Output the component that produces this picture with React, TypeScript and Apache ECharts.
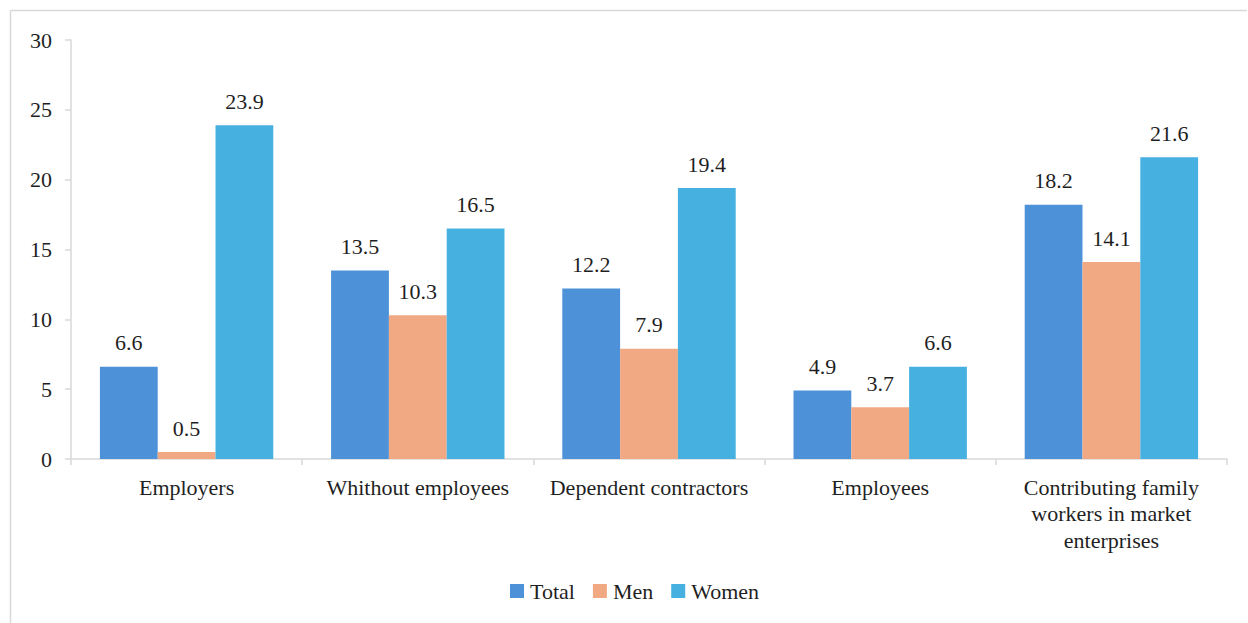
import React, { useEffect, useRef } from "react";
import * as echarts from "echarts";

const categories = [
  "Employers",
  "Whithout employees",
  "Dependent contractors",
  "Employees",
  "Contributing family\nworkers in market\nenterprises",
];
const totalValues = [6.6, 13.5, 12.2, 4.9, 18.2];
const menValues = [0.5, 10.3, 7.9, 3.7, 14.1];
const womenValues = [23.9, 16.5, 19.4, 6.6, 21.6];
const seriesNames = ["Total", "Men", "Women"];
const seriesColors = ["#4D91D9", "#F1A983", "#46B1E1"];

const FONT = "Liberation Serif";
const TEXT_COLOR = "#1f1f1f";

export default function App() {
  const ref = useRef<HTMLDivElement>(null);

  useEffect(() => {
    document.body.style.margin = "0";
    const chart = echarts.init(ref.current!, null, { renderer: "svg" });
    const values = [totalValues, menValues, womenValues];
    const lbl = { fontFamily: FONT, fontSize: 22, color: TEXT_COLOR };
    chart.setOption({
      animation: false,
      textStyle: { fontFamily: FONT, fontSize: 22, color: TEXT_COLOR },
      graphic: [
        {
          type: "line",
          shape: { x1: 10.5, y1: 10.5, x2: 1247, y2: 10.5 },
          style: { stroke: "#d9d9d9", lineWidth: 1.5 },
        },
        {
          type: "line",
          shape: { x1: 10.5, y1: 10.5, x2: 10.5, y2: 623 },
          style: { stroke: "#d9d9d9", lineWidth: 1.5 },
        },
      ],
      grid: { left: 71, right: 21, top: 40, bottom: 164, containLabel: false },
      legend: {
        data: seriesNames,
        left: 505,
        top: 575,
        itemWidth: 14,
        itemHeight: 14,
        itemGap: 18,
        icon: "rect",
        textStyle: { ...lbl, padding: [0, 0, 0, 1] },
      },
      xAxis: {
        type: "category",
        data: categories,
        axisLine: { show: true, lineStyle: { color: "#d9d9d9", width: 1.5 } },
        axisTick: { show: true, length: 6, lineStyle: { color: "#d9d9d9", width: 1.5 } },
        axisLabel: {
          ...lbl,
          interval: 0,
          margin: 15,
          lineHeight: 26.5,
          align: "center",
        },
      },
      yAxis: {
        type: "value",
        min: 0,
        max: 30,
        interval: 5,
        axisLine: { show: true, lineStyle: { color: "#d9d9d9", width: 1.5 } },
        axisTick: { show: true, length: 6, lineStyle: { color: "#d9d9d9", width: 1.5 } },
        splitLine: { show: false },
        axisLabel: { ...lbl, margin: 19 },
      },
      series: seriesNames.map((name, i) => ({
        name,
        type: "bar",
        data: values[i],
        barGap: "0%",
        barCategoryGap: "25%",
        itemStyle: { color: seriesColors[i] },
        label: {
          ...lbl,
          show: true,
          position: "top",
          distance: 13,
          formatter: (p: any) => p.value.toFixed(1),
        },
      })),
    });
    return () => chart.dispose();
  }, []);

  return <div ref={ref} style={{ width: 1248, height: 623 }} />;
}
